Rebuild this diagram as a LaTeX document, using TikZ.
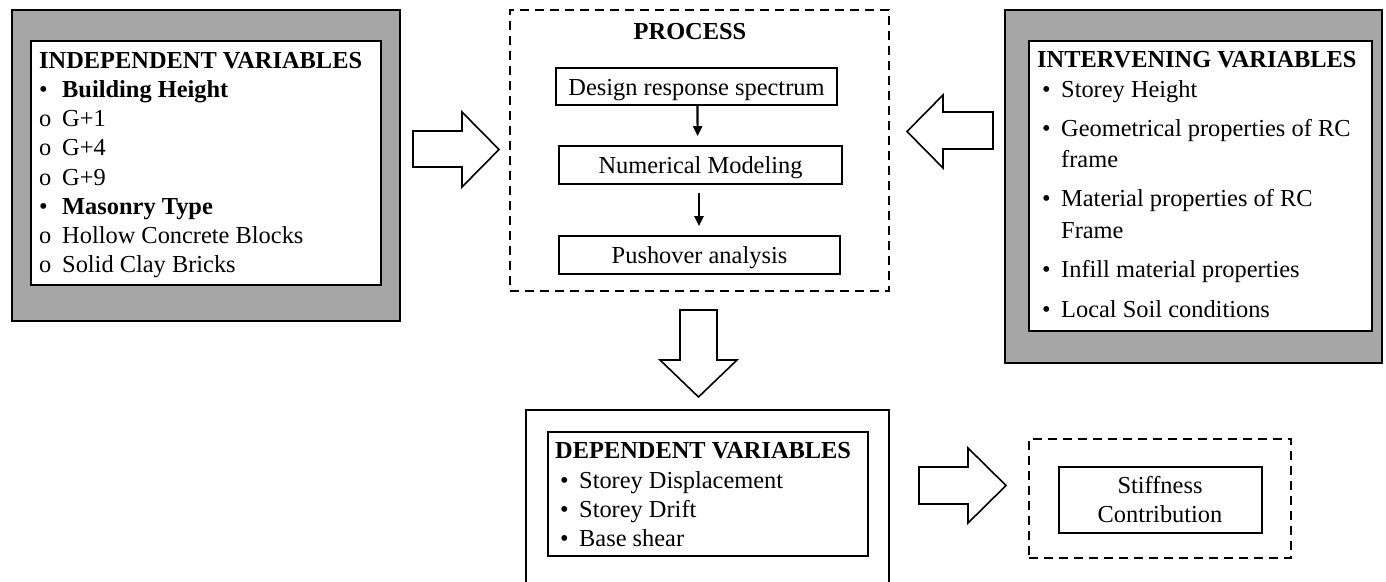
\documentclass[tikz,border=0pt]{standalone}
\usepackage{fontspec}
\setmainfont{Liberation Serif}
\usetikzlibrary{arrows.meta}
\definecolor{boxgray}{HTML}{A6A6A6}
\tikzset{
  graybox/.style={draw=black, line width=1.6pt, fill=boxgray, inner sep=0pt},
  whitebox/.style={draw=black, line width=2pt, fill=white, inner sep=0pt},
  plainbox/.style={draw=black, line width=1.8pt, inner sep=0pt},
  dashbox/.style={draw=black, line width=1.8pt, dash pattern=on 9pt off 6pt, inner sep=0pt},
  txt/.style={inner sep=0pt, anchor=base west, font=\fontsize{24.4}{29}\selectfont},
  ctxt/.style={inner sep=0pt, anchor=base, font=\fontsize{24.4}{29}\selectfont},
  blockarrow/.style={draw=black, line width=1.6pt, fill=white, line join=miter},
  smallarrow/.style={draw=black, line width=2.2pt, -{Triangle[length=10pt,width=9pt]}},
}
\newcommand{\blt}{\makebox[19pt][l]{•}}
\newcommand{\bltb}{\makebox[23pt][l]{•}}
\newcommand{\circb}{\makebox[23pt][l]{o}}
\begin{document}
\begin{tikzpicture}[x=1pt,y=-1pt]
\useasboundingbox (0,0) rectangle (1386,581);
\fill[white] (0,0) rectangle (1386,581);

% ---------- Independent variables ----------
\node[graybox, minimum width=388pt, minimum height=311pt] (indOuter) at (206,165.5) {};
\node[whitebox, minimum width=350pt, minimum height=244pt] (indInner) at (206,163) {};
\node[txt] (indH) at (39,68.3) {\bfseries INDEPENDENT VARIABLES};
\node[txt] (ind1) at (39,97.5) {\bltb\textbf{Building Height}};
\node[txt] (ind2) at (39,126.7) {\circb G+1};
\node[txt] (ind3) at (39,155.9) {\circb G+4};
\node[txt] (ind4) at (39,185.1) {\circb G+9};
\node[txt] (ind5) at (39,214.3) {\bltb\textbf{Masonry Type}};
\node[txt] (ind6) at (39,243.5) {\circb Hollow Concrete Blocks};
\node[txt] (ind7) at (39,272.7) {\circb Solid Clay Bricks};

% ---------- Process ----------
\node[dashbox, minimum width=379pt, minimum height=281pt] (proc) at (699.5,150.5) {};
\node[ctxt] (procH) at (690,39.3) {\bfseries PROCESS};
\node[plainbox, minimum width=281pt, minimum height=37pt] (b1) at (696.5,86.5) {};
\node[plainbox, minimum width=283pt, minimum height=38pt] (b2) at (700.5,165) {};
\node[plainbox, minimum width=281pt, minimum height=38pt] (b3) at (699.5,255) {};
\node[ctxt] (t1) at (696.5,95) {Design response spectrum};
\node[ctxt] (t2) at (700.5,173.3) {Numerical Modeling};
\node[ctxt] (t3) at (699.5,263.3) {Pushover analysis};
\draw[smallarrow, shorten >=9pt] ([xshift=1pt]b1.south) -- ([xshift=-2.8pt]b2.north);
\draw[smallarrow, shorten <=8pt, shorten >=9pt] ([xshift=-1.5pt]b2.south) -- ([xshift=-0.5pt]b3.north);

% ---------- Intervening variables ----------
\node[graybox, minimum width=377pt, minimum height=353pt] (intOuter) at (1193.5,186.5) {};
\node[whitebox, minimum width=343pt, minimum height=290pt] (intInner) at (1200.5,186) {};
\node[txt] (intH) at (1037,67.7) {\bfseries INTERVENING VARIABLES};
\node[txt] (int1) at (1042,97.3) {\blt Storey Height};
\node[txt] (int2) at (1042,136) {\blt Geometrical properties of RC};
\node[txt] (int2b) at (1061,167.7) {frame};
\node[txt] (int3) at (1042,206) {\blt Material properties of RC};
\node[txt] (int3b) at (1061,238.3) {Frame};
\node[txt] (int4) at (1042,277.3) {\blt Infill material properties};
\node[txt] (int5) at (1042,317.3) {\blt Local Soil conditions};

% ---------- Dependent variables ----------
\node[plainbox, minimum width=363pt, minimum height=180pt] (depOuter) at (707.5,500) {};
\node[whitebox, minimum width=320pt, minimum height=124pt] (depInner) at (708,494) {};
\node[txt] (depH) at (555,458.5) {\bfseries DEPENDENT VARIABLES};
\node[txt] (dep1) at (560,488) {\blt Storey Displacement};
\node[txt] (dep2) at (560,517) {\blt Storey Drift};
\node[txt] (dep3) at (560,546) {\blt Base shear};

% ---------- Stiffness contribution ----------
\node[dashbox, minimum width=262pt, minimum height=119pt] (stiffOuter) at (1160,498.5) {};
\node[plainbox, minimum width=203pt, minimum height=66pt] (stiffInner) at (1160.5,500) {};
\node[ctxt] (stiff1) at (1160,493.3) {Stiffness};
\node[ctxt] (stiff2) at (1160,522.7) {Contribution};

% ---------- Block arrows ----------
\draw[blockarrow] (413,131) -- (462,131) -- (462,112) -- (499,149.5) -- (462,187) -- (462,167) -- (413,167) -- cycle;
\draw[blockarrow] (993,112) -- (943,112) -- (943,95) -- (907,131.5) -- (943,168) -- (943,149) -- (993,149) -- cycle;
\draw[blockarrow] (680,310) -- (717,310) -- (717,360) -- (737,360) -- (698.5,397) -- (660,360) -- (680,360) -- cycle;
\draw[blockarrow] (919,467) -- (968,467) -- (968,448) -- (1006,485.5) -- (968,523) -- (968,504) -- (919,504) -- cycle;
\end{tikzpicture}
\end{document}
